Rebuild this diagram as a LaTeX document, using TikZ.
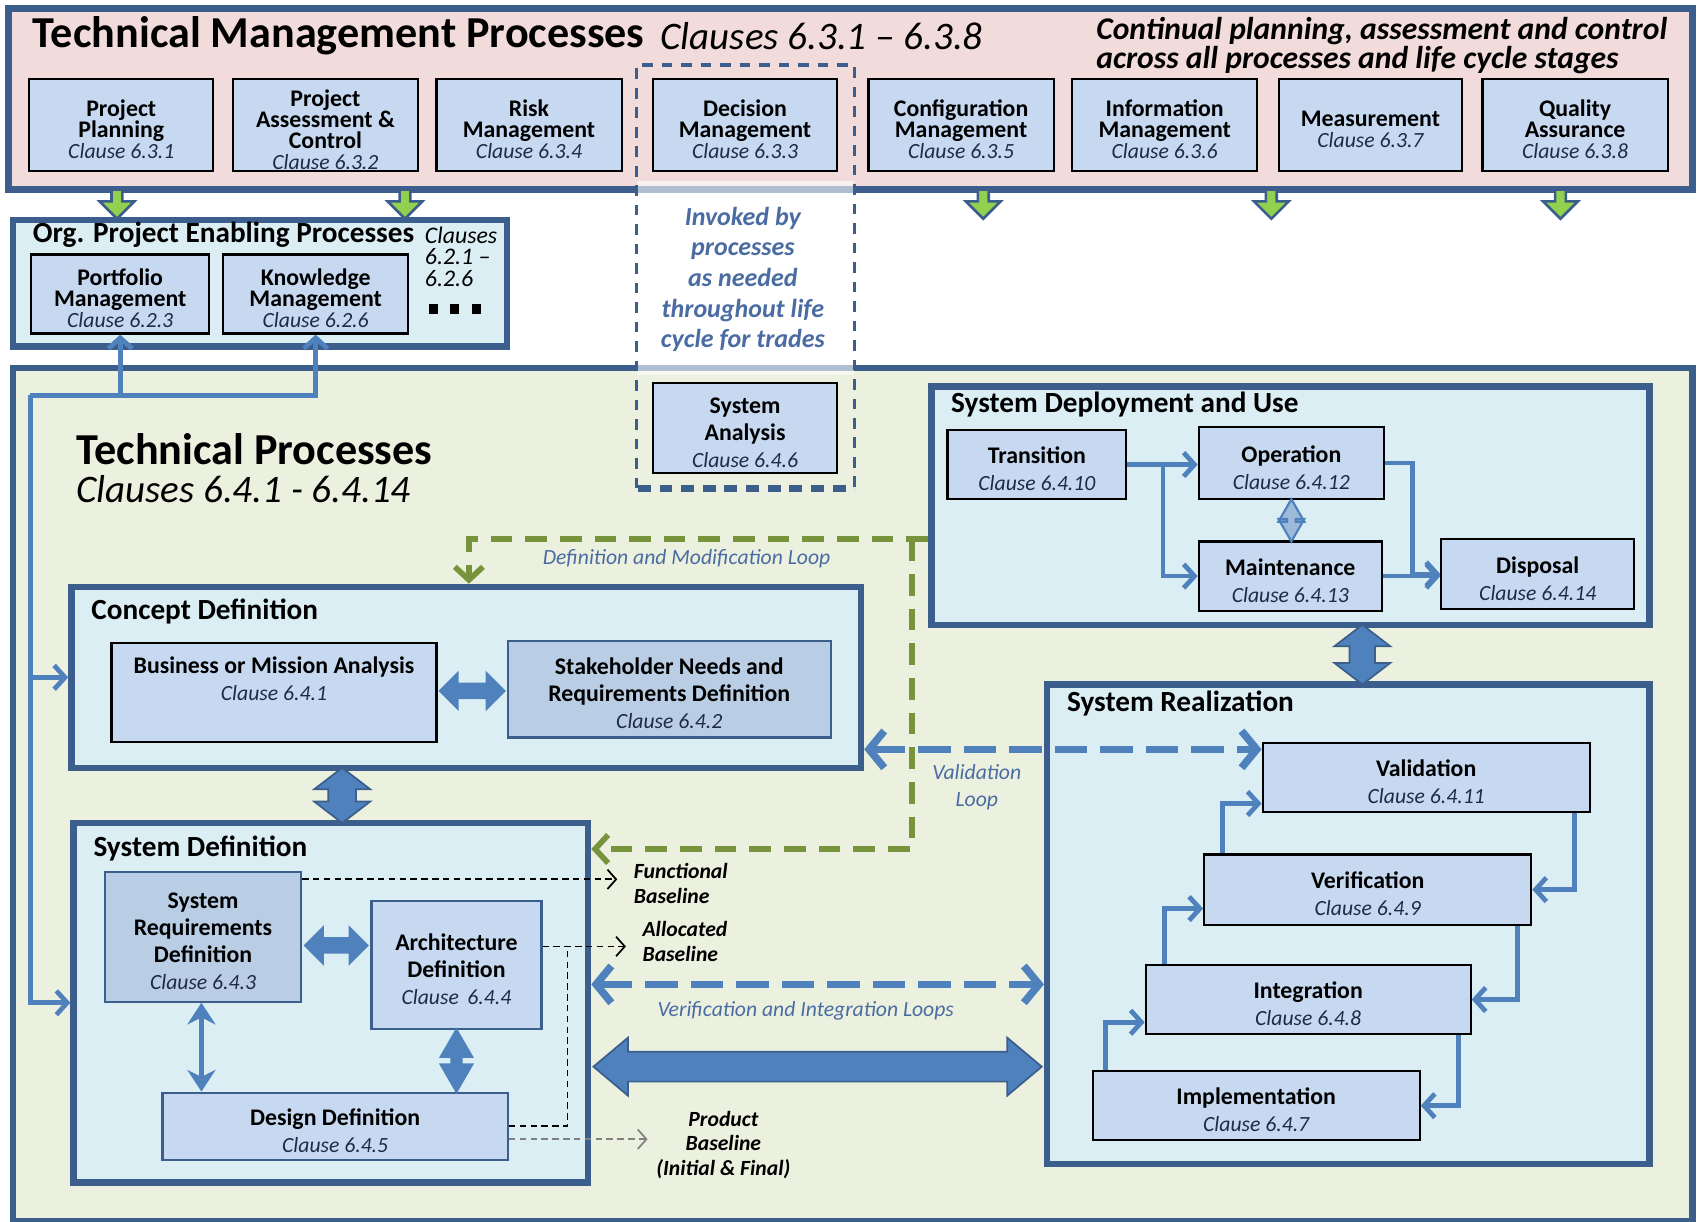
\documentclass[tikz,border=0pt]{standalone}
\usepackage{fontspec}
\setmainfont{Carlito}
\usetikzlibrary{arrows.meta,shapes.arrows,fit,calc}

\definecolor{frameblue}{HTML}{3B5E8C}
\definecolor{arrowblue}{HTML}{4F81BD}
\definecolor{pinkfill}{HTML}{F2DCDB}
\definecolor{greenbg}{HTML}{EBF1DE}
\definecolor{paleblue}{HTML}{DBEEF4}
\definecolor{boxfill}{HTML}{C6D9F1}
\definecolor{boxfilldk}{HTML}{B9CDE5}
\definecolor{leafgreen}{HTML}{92D050}
\definecolor{loopgreen}{HTML}{77933C}
\definecolor{notecol}{HTML}{4A6CA3}
\definecolor{clausecol}{HTML}{1F2A44}

\newcommand{\clausetxt}[1]{{\normalfont\itshape\fontsize{10}{12}\selectfont\color{clausecol}#1}}

\tikzset{
  frame/.style={draw=frameblue, line width=3pt, inner sep=0pt},
  tmbox/.style={draw=black, line width=1pt, fill=boxfill, inner sep=0pt},
  tpbox/.style={draw=black, line width=1pt, fill=boxfill, inner sep=0pt},
  reqbox/.style={tpbox, draw=frameblue, fill=boxfilldk},
  defbox/.style={tpbox, draw=frameblue},
  tmtext/.style={align=center, inner sep=0pt, yshift=-2pt, font=\bfseries\fontsize{11}{9.7}\selectfont},
  tptext/.style={align=center, inner sep=0pt, yshift=-2pt, font=\bfseries\fontsize{11}{12.5}\selectfont},
  heading/.style={anchor=west, inner sep=0pt, font=\bfseries\fontsize{13.5}{15}\selectfont},
  note/.style={align=center, inner sep=0pt, text=notecol, font=\itshape\fontsize{10}{12.5}\selectfont},
  baselbl/.style={inner sep=0pt, font=\bfseries\itshape\fontsize{10}{11.5}\selectfont},
  flow/.style={draw=arrowblue, line width=2.2pt, -{Straight Barb[length=5pt,width=11pt]}},
  vloop/.style={draw=arrowblue, line width=3.5pt, dash pattern=on 15pt off 6pt,
                {Straight Barb[length=7pt,width=17pt]}-{Straight Barb[length=7pt,width=17pt]}},
  gloop/.style={draw=loopgreen, line width=2.6pt, dash pattern=on 10pt off 6pt},
  gtip/.style={-{Straight Barb[length=6pt,width=13pt]}},
  baseln/.style={draw=black, line width=0.8pt, dash pattern=on 3pt off 2pt},
  btip/.style={-{Straight Barb[length=4pt,width=9pt]}},
  blockarrow/.style={double arrow, draw=frameblue, fill=arrowblue, line width=0.8pt, inner xsep=0pt},
  feed/.pic={
    \draw[draw=frameblue, fill=leafgreen, line width=1.2pt, line join=miter]
      (-5,0) -- (-5,11) -- (-16,11) -- (0,27) -- (16,11) -- (5,11) -- (5,0) -- cycle;
  }
}

\begin{document}
\begin{tikzpicture}[x=0.5pt,y=-0.5pt]
\useasboundingbox (0,0) rectangle (1568,1128);
\fill[white] (0,0) rectangle (1568,1128);

% ---------------- Technical Management band ----------------
\node[frame, fill=pinkfill, fit={(8,8)(1563,175)}] (tm) {};
\node[anchor=west, inner sep=0pt, font=\bfseries\fontsize{20.4}{22}\selectfont] (tmtitle) at (30,33)
  {Technical Management Processes};
\node[anchor=west, inner sep=0pt, font=\itshape\fontsize{18}{20}\selectfont] at ($(tmtitle.east)+(14,0)$)
  {Clauses 6.3.1 – 6.3.8};
\node[anchor=west, inner sep=0pt, align=left, font=\bfseries\itshape\fontsize{14.6}{13.6}\selectfont]
  at (1012,42) {Continual planning, assessment and control\\across all processes and life cycle stages};

% ---------------- Technical Processes area ----------------
\node[frame, fill=greenbg, fit={(12,340)(1563,1128)}] (tp) {};

% ---------------- Organizational enabling processes ----------------
\node[frame, fill=paleblue, fit={(12,203)(468,320)}] (org) {};
\node[heading] at (30,217) {Org. Project Enabling Processes};
\node[anchor=north west, inner sep=0pt, align=left, font=\itshape\fontsize{11}{10}\selectfont]
  at (392,209) {Clauses\\6.2.1 –\\6.2.6};
\foreach \sx in {396,416,436} \fill (\sx,281) rectangle +(8,9);

% feed arrows out of the management band
\foreach \fx in {108,374,908,1174,1441} \pic at (\fx,175) {feed};

% "invoked as needed" region
\fill[white, opacity=.6] (588,167) rectangle (789,346);
\draw[frameblue, line width=1.5pt, dash pattern=on 5pt off 4pt] (588,451) -- (588,60) -- (789,60) -- (789,451);
\draw[frameblue, line width=3pt, dash pattern=on 6pt off 4pt] (589,451) -- (789,451);
\node[align=center, inner sep=0pt, text=notecol, font=\bfseries\itshape\fontsize{12}{14.1}\selectfont]
  at (686,258) {Invoked by\\processes\\as needed\\throughout life\\cycle for trades};

% management processes
\node[tmbox, fit={(27,73)(197,158)},   label={[tmtext]center:{Project\\Planning\\\clausetxt{Clause 6.3.1}}}] (pp) {};
\node[tmbox, fit={(215,73)(386,158)},  label={[tmtext]center:{Project\\Assessment \&\\Control\\\clausetxt{Clause 6.3.2}}}] (pac) {};
\node[tmbox, fit={(403,73)(574,158)},  label={[tmtext]center:{Risk\\Management\\\clausetxt{Clause 6.3.4}}}] (rm) {};
\node[tmbox, fit={(603,73)(773,158)},  label={[tmtext]center:{Decision\\Management\\\clausetxt{Clause 6.3.3}}}] (dm) {};
\node[tmbox, fit={(802,73)(973,158)},  label={[tmtext]center:{Configuration\\Management\\\clausetxt{Clause 6.3.5}}}] (cm) {};
\node[tmbox, fit={(990,73)(1161,158)}, label={[tmtext]center:{Information\\Management\\\clausetxt{Clause 6.3.6}}}] (im) {};
\node[tmbox, fit={(1181,73)(1350,158)},label={[tmtext]center:{Measurement\\\clausetxt{Clause 6.3.7}}}] (ms) {};
\node[tmbox, fit={(1369,73)(1540,158)},label={[tmtext]center:{Quality\\Assurance\\\clausetxt{Clause 6.3.8}}}] (qa) {};

% enabling processes
\node[tmbox, fit={(29,235)(193,308)},  label={[tmtext]center:{Portfolio\\Management\\\clausetxt{Clause 6.2.3}}}] (pm) {};
\node[tmbox, fit={(206,235)(377,308)}, label={[tmtext]center:{Knowledge\\Management\\\clausetxt{Clause 6.2.6}}}] (km) {};

% system analysis
\node[tpbox, fit={(603,354)(773,437)}, label={[tptext]center:{System\\Analysis\\\clausetxt{Clause 6.4.6}}}] (sa) {};

% technical processes title
\node[anchor=west, inner sep=0pt, align=left, font=\itshape\fontsize{18}{17.5}\selectfont] at (70,432)
  {{\upshape\bfseries\fontsize{20.4}{17.5}\selectfont Technical Processes}\\Clauses 6.4.1 - 6.4.14};

% ---------------- System Deployment and Use ----------------
\node[frame, fill=paleblue, fit={(860,357)(1523,577)}] (du) {};
\node[heading] at (878,374) {System Deployment and Use};
\node[tpbox, fit={(875,397)(1040,461)},  label={[tptext]center:{Transition\\\clausetxt{Clause 6.4.10}}}] (tr) {};
\node[tpbox, fit={(1107,394)(1278,461)}, label={[tptext]center:{Operation\\\clausetxt{Clause 6.4.12}}}] (op) {};
\node[tpbox, fit={(1107,500)(1276,564)}, label={[tptext]center:{Maintenance\\\clausetxt{Clause 6.4.13}}}] (mt) {};
\node[tpbox, fit={(1331,498)(1509,562)}, label={[tptext]center:{Disposal\\\clausetxt{Clause 6.4.14}}}] (ds) {};

\draw[flow] (tr.east) -- (op.west |- tr.east);
\draw[flow] ($(tr.east)+(33,0)$) |- (mt.west);
\draw[flow] (op.east) -| ($(ds.west)+(-26,0)$) -- (ds.west);
\draw[flow] (mt.east) -- (ds.west |- mt.east);
\path (op.south) -- (op.south |- mt.north) node[midway, double arrow, rotate=90, draw=arrowblue,
  fill=arrowblue!55, line width=1pt, inner xsep=0pt, inner ysep=1.5pt, minimum height=19.5pt,
  double arrow head extend=4pt, double arrow tip angle=60] {};

% ---------------- System Realization ----------------
\node[frame, fill=paleblue, fit={(967,632)(1523,1075)}] (rz) {};
\node[heading] at (985,650) {System Realization};
\node[tpbox, fit={(1166,686)(1468,750)},  label={[tptext]center:{Validation\\\clausetxt{Clause 6.4.11}}}] (val) {};
\node[tpbox, fit={(1112,789)(1414,854)},  label={[tptext]center:{Verification\\\clausetxt{Clause 6.4.9}}}] (ver) {};
\node[tpbox, fit={(1058,891)(1358,955)},  label={[tptext]center:{Integration\\\clausetxt{Clause 6.4.8}}}] (int) {};
\node[tpbox, fit={(1009,989)(1311,1053)}, label={[tptext]center:{Implementation\\\clausetxt{Clause 6.4.7}}}] (imp) {};

\draw[flow] ($(val.south east)+(-15,0)$) |- (ver.east);
\draw[flow] ($(ver.south east)+(-14,0)$) |- (int.east);
\draw[flow] ($(int.south east)+(-12,0)$) |- (imp.east);
\draw[flow] ($(imp.north west)+(13,0)$) |- ($(int.south west)+(0,-12)$);
\draw[flow] ($(int.north west)+(18,0)$) |- ($(ver.south west)+(0,-16)$);
\draw[flow] ($(ver.north west)+(18,0)$) |- ($(val.south west)+(0,-9)$);

\path (du.south -| 1258,0) -- (rz.north -| 1258,0) node[midway, blockarrow, rotate=90,
  minimum height=27.5pt, inner ysep=5.5pt, double arrow head extend=7pt, double arrow tip angle=105] {};

% ---------------- Concept Definition ----------------
\node[frame, fill=paleblue, fit={(66,542)(795,709)}] (cd) {};
\node[heading] at (84,565) {Concept Definition};
\node[tpbox, fit={(103,594)(403,685)}] (bma) {};
\node[align=center, inner sep=0pt, font=\bfseries\fontsize{11}{12.5}\selectfont] at (253,627)
  {Business or Mission Analysis\\\clausetxt{Clause 6.4.1}};
\node[reqbox, fit={(469,592)(767,681)},
  label={[tptext]center:{Stakeholder Needs and\\Requirements Definition\\\clausetxt{Clause 6.4.2}}}] (snr) {};
\coordinate (cy) at (0,638);
\path (bma.east |- cy) -- (snr.west |- cy) node[midway, blockarrow, draw=arrowblue, minimum height=30pt,
  inner ysep=3pt, double arrow head extend=5pt, double arrow tip angle=90] {};

% ---------------- System Definition ----------------
\node[frame, fill=paleblue, fit={(68,760)(543,1092)}] (sd) {};
\node[heading] at (86,784) {System Definition};
\node[reqbox, fit={(97,805)(278,925)},
  label={[tptext]center:{System\\Requirements\\Definition\\\clausetxt{Clause 6.4.3}}}] (sr) {};
\node[defbox, fit={(343,832)(500,950)},
  label={[tptext]center:{Architecture\\Definition\\\clausetxt{Clause\, 6.4.4}}}] (ad) {};
\node[defbox, fit={(150,1009)(469,1071)},
  label={[tptext]center:{Design Definition\\\clausetxt{Clause 6.4.5}}}] (dd) {};

\coordinate (ay) at (0,873);
\path (sr.east |- ay) -- (ad.west |- ay) node[midway, blockarrow, draw=arrowblue, minimum height=29pt,
  inner ysep=3pt, double arrow head extend=5pt, double arrow tip angle=90] {};
\draw[draw=arrowblue, line width=2.6pt, {Stealth[length=10pt,width=13pt]}-{Stealth[length=10pt,width=13pt]}]
  (sr.south -| 186,0) -- (dd.north -| 186,0);
\path (ad.south) -- (ad.south |- dd.north) node[midway, blockarrow, draw=arrowblue, rotate=90,
  minimum height=29pt, inner ysep=2pt, double arrow head extend=5pt, double arrow tip angle=60] {};

\path (cd.south -| 316,0) -- (sd.north -| 316,0) node[midway, blockarrow, rotate=90,
  minimum height=25.5pt, inner ysep=6pt, double arrow head extend=6.5pt, double arrow tip angle=105] {};

% baselines
\coordinate (fb) at (570,812);
\coordinate (ab) at (578,874);
\coordinate (aj) at (524,874);
\coordinate (pb) at (598,1052);
\draw[baseln, btip] (sr.east |- fb) -- (fb);
\draw[baseln, btip] (ad.east |- ab) -- (ab);
\draw[baseln] (dd.east |- 0,1040) -| (aj);
\draw[baseln, draw=gray, btip] (dd.east |- pb) -- (pb);
\node[baselbl, anchor=west, align=left] at (585,815.5) {Functional\\Baseline};
\node[baselbl, anchor=west, align=left] at (593,869) {Allocated\\Baseline};
\node[baselbl, align=center, font=\bfseries\itshape\fontsize{10}{11.3}\selectfont] at (668,1057)
  {Product\\Baseline\\(Initial \& Final)};

% ---------------- loops between areas ----------------
\coordinate (vy) at (0,692);
\draw[vloop] (cd.east |- vy) -- (val.west |- vy);
\node[note] at (902,727) {Validation\\Loop};

\coordinate (viy) at (0,909);
\draw[vloop] (sd.east |- viy) -- (rz.west |- viy);
\node[note] at (744,933) {Verification and Integration Loops};

\path (sd.east |- 0,985) -- (rz.west |- 0,985) node[midway, blockarrow, minimum height=207pt,
  inner ysep=6.5pt, double arrow head extend=6.5pt, double arrow tip angle=80] {};

\coordinate (g1) at (433,498);
\coordinate (g2) at (842,498);
\draw[gloop, gtip] (du.west |- g1) -- (g1) -- (g1 |- cd.north);
\draw[gloop, gtip] (g2) -- (g2 |- 0,784) -- (sd.east |- 0,784);
\node[note] at (634,516) {Definition and Modification Loop};

% ---------------- links from technical processes ----------------
\coordinate (j1) at (28,365);
\draw[flow] (j1) -- (j1 -| km.south) -- (km.south);
\draw[flow] (j1 -| pm.south) -- (pm.south);
\draw[flow] (j1) |- (cd.west);
\draw[flow] (j1) |- (sd.west);

\end{tikzpicture}
\end{document}
